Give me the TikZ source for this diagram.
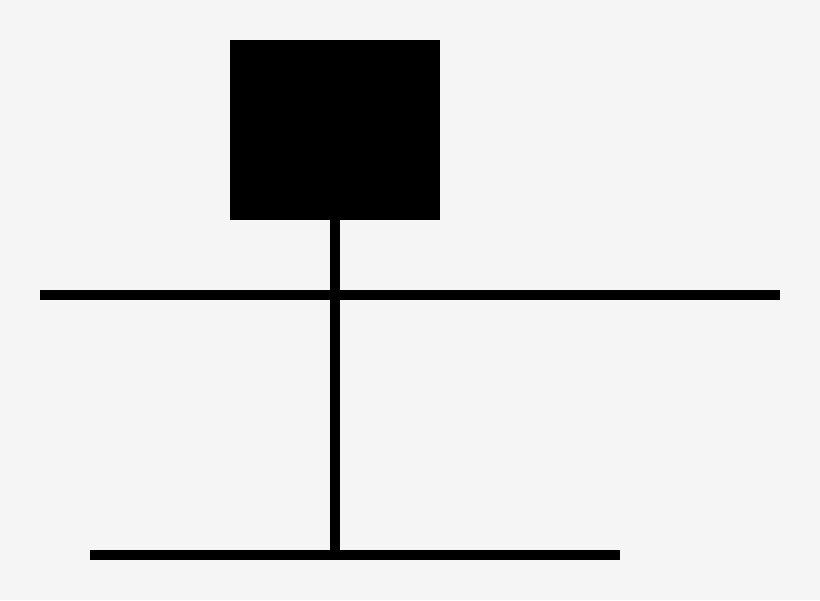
\documentclass[tikz,border=0pt]{standalone}
\definecolor{paper}{HTML}{F5F5F5}
\begin{document}
\begin{tikzpicture}[x=0.025cm,y=-0.025cm]

      \fill[paper] (0,0) rectangle (820,600);
      \useasboundingbox (0,0) rectangle (820,600);

      \begin{scope}[every node/.style={fill=black, inner sep=0pt}]
        \node[minimum width=5.25cm, minimum height=4.5cm] (host) at (335,130) {};
      \end{scope}

      \coordinate (busw)  at (40,295);
      \coordinate (buse)  at (780,295);
      \coordinate (lanw)  at (90,555);
      \coordinate (lane)  at (620,555);
      \coordinate (tap)   at (335,555);

      \begin{scope}[line width=0.25cm]
        \draw (busw) -- (buse);
        \draw (lanw) -- (lane);
        \draw (host.south) -- (tap);
      \end{scope}

    \end{tikzpicture}
\end{document}
